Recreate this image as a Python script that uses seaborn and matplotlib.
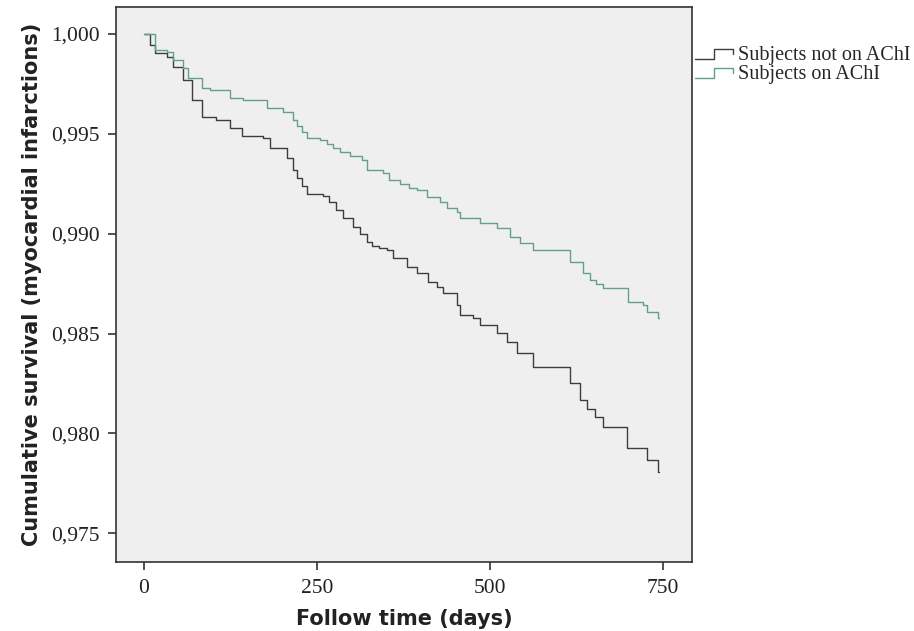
import matplotlib
matplotlib.use("Agg")
import matplotlib.pyplot as plt
import seaborn as sns
import pandas as pd
from matplotlib.lines import Line2D
from matplotlib.legend_handler import HandlerBase
from matplotlib.ticker import FuncFormatter

# Kaplan-Meier style step curves
days_not_achi = [0, 9, 16, 33, 42, 56, 69, 84, 105, 124, 142, 172, 182, 207, 215,
                 222, 229, 236, 259, 268, 278, 288, 302, 312, 322, 330, 340, 351, 360,
                 380, 395, 410, 423, 432, 452, 457, 475, 486, 510, 525, 539, 562, 616,
                 630, 640, 652, 663, 698, 727, 743, 745]
surv_not_achi = [1.0000, 0.99945, 0.99905, 0.99885, 0.99835, 0.9977, 0.9967, 0.99584,
                 0.9957, 0.9953, 0.9949, 0.9948, 0.9943, 0.9938, 0.9932, 0.9928, 0.9924,
                 0.9920, 0.9919, 0.9916, 0.9912, 0.9908, 0.99033, 0.9900, 0.98958,
                 0.9894, 0.9893, 0.98918, 0.98878, 0.98833, 0.98803, 0.98757, 0.98732,
                 0.98702, 0.98642, 0.98592, 0.98577, 0.98542, 0.98502, 0.98457, 0.98402,
                 0.98333, 0.9825, 0.98166, 0.9812, 0.9808, 0.98031, 0.97926, 0.97866,
                 0.97806, 0.97806]

days_on_achi = [0, 16, 33, 42, 56, 64, 84, 95, 124, 143, 178, 201, 215, 222, 229, 236,
                254, 265, 274, 283, 298, 316, 322, 345, 355, 370, 383, 395, 409, 428,
                438, 452, 457, 486, 510, 529, 543, 562, 616, 634, 645, 654, 663, 699,
                721, 727, 743, 745]
surv_on_achi = [1.0000, 0.9992, 0.9991, 0.9987, 0.9983, 0.9978, 0.9973, 0.9972, 0.9968,
                0.9967, 0.9963, 0.9961, 0.9957, 0.9954, 0.9951, 0.9948, 0.9947, 0.9945,
                0.9943, 0.99409, 0.9939, 0.99369, 0.99319, 0.99304, 0.99268, 0.9925,
                0.9923, 0.99218, 0.99183, 0.99158, 0.99128, 0.99108, 0.99078, 0.99053,
                0.99028, 0.98983, 0.98953, 0.98918, 0.98858, 0.98803, 0.9877, 0.9875,
                0.98727, 0.98657, 0.98642, 0.98607, 0.98577, 0.98577]

group_labels = ["Subjects not on AChI", "Subjects on AChI"]
y_ticks = [0.975, 0.980, 0.985, 0.990, 0.995, 1.000]
x_ticks = [0, 250, 500, 750]


class StepHandler(HandlerBase):
    # legend key drawn as a small step, like the SPSS original
    def create_artists(self, legend, orig_handle, xdescent, ydescent,
                       width, height, fontsize, trans):
        x0, y0 = -xdescent, -ydescent
        xs = [x0, x0 + 0.5 * width, x0 + 0.5 * width, x0 + width, x0 + width]
        ys = [y0 + 0.1 * height, y0 + 0.1 * height, y0 + 0.8 * height,
              y0 + 0.8 * height, y0 + 0.45 * height]
        line = Line2D(xs, ys, color=orig_handle.get_color(),
                      lw=orig_handle.get_linewidth(), transform=trans)
        return [line]


df = pd.concat([
    pd.DataFrame({"days": days_not_achi, "surv": surv_not_achi, "group": group_labels[0]}),
    pd.DataFrame({"days": days_on_achi, "surv": surv_on_achi, "group": group_labels[1]}),
])

sns.set_theme(style="ticks")
plt.rcParams["font.family"] = ["DejaVu Sans"]

colors = {group_labels[0]: "#3d3d3d", group_labels[1]: "#659e93"}

fig = plt.figure(figsize=(9.14, 6.31), dpi=100)
ax = fig.add_axes([0.127, 0.109, 0.630, 0.880])
ax.set_facecolor("#efefef")

sns.lineplot(data=df, x="days", y="surv", hue="group", palette=colors,
             estimator=None, sort=False, drawstyle="steps-post",
             linewidth=1.0, legend=False, ax=ax)

ax.set_xlim(-40, 792)
ax.set_ylim(0.97355, 1.00135)
ax.set_xticks(x_ticks)
ax.set_yticks(y_ticks)
ax.yaxis.set_major_formatter(FuncFormatter(lambda v, p: f"{v:.3f}".replace(".", ",")))
ax.tick_params(axis="both", length=6, width=1.2, color="#333333",
               labelsize=15.5, labelcolor="#222222", pad=6)
for lab in ax.get_xticklabels() + ax.get_yticklabels():
    lab.set_family("Liberation Serif")
for sp in ax.spines.values():
    sp.set_color("#333333")
    sp.set_linewidth(1.2)

ax.set_xlabel("Follow time (days)", fontsize=15, fontweight="bold", color="#222222", labelpad=8)
ax.set_ylabel("Cumulative survival (myocardial infarctions)", fontsize=15,
              fontweight="bold", color="#222222", labelpad=6)

handles = [Line2D([], [], color=colors[g], lw=1.0) for g in group_labels]
fig.legend(handles, group_labels, loc="upper left", bbox_to_anchor=(0.760, 0.927),
           frameon=False, borderpad=0, borderaxespad=0, handlelength=1.9,
           handletextpad=0.25, labelspacing=0.0,
           handler_map={Line2D: StepHandler()},
           prop={"family": "Liberation Serif", "size": 14.5})

fig.savefig("out.png", dpi=100)
plt.close(fig)
